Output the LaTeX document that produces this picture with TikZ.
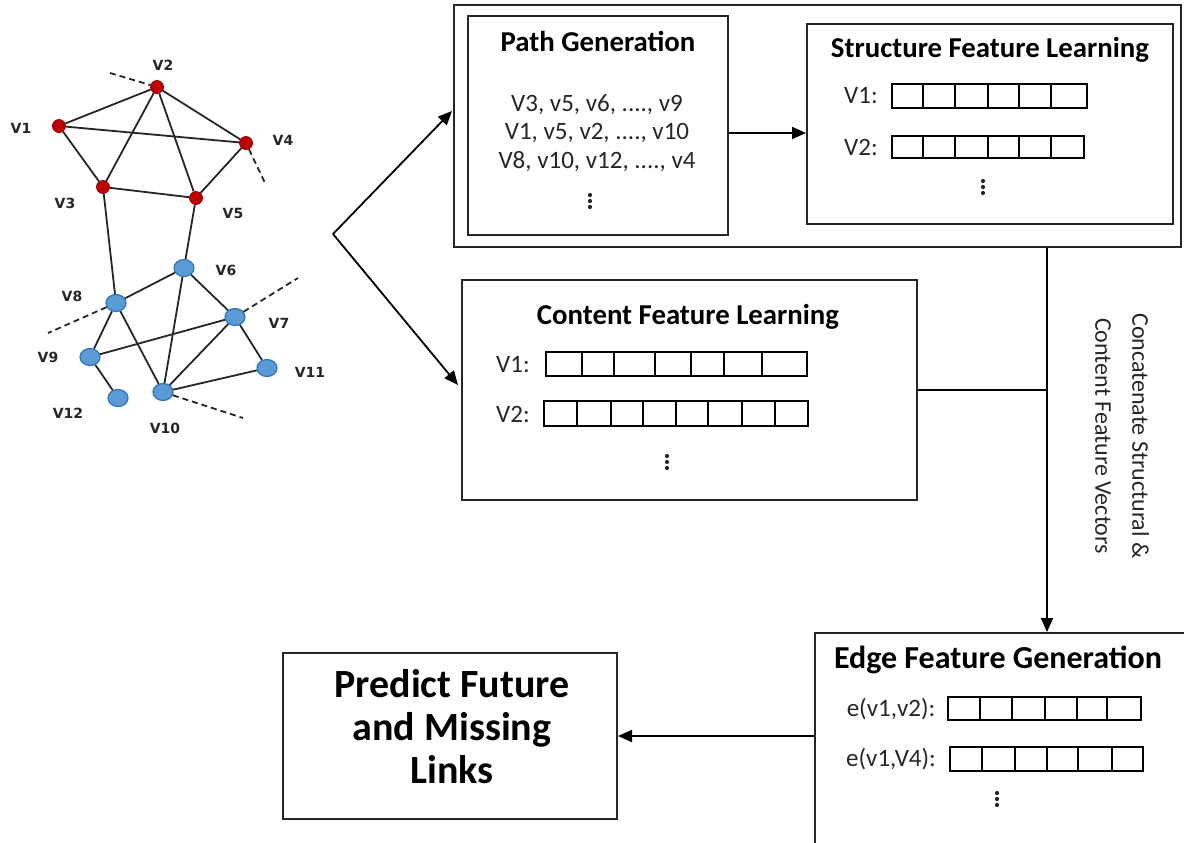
\documentclass[tikz,border=0pt]{standalone}
\usepackage{fontspec}
\setmainfont{Carlito}
\newfontfamily\graphfont{DejaVu Sans}
\usetikzlibrary{arrows.meta,positioning,shapes.geometric}
\definecolor{vred}{HTML}{C00000}
\definecolor{vredline}{HTML}{8B0000}
\definecolor{vblue}{HTML}{5B9BD5}
\definecolor{vblueline}{HTML}{2E75B6}
\definecolor{ink}{HTML}{262626}
\newcommand{\vecrow}[5]{%
  \draw[cell] (#3,#1) rectangle (#4,#2);
  \foreach \cx in {#5} \draw[cell] (\cx,#1) -- (\cx,#2);}
\tikzset{
  box/.style={draw=ink, line width=1pt, inner sep=0pt},
  title/.style={font=\bfseries\fontsize{14.4}{16}\selectfont, text=black, inner sep=1pt},
  body/.style={font=\fontsize{12.5}{14}\selectfont, text=ink, inner sep=1pt},
  ellip/.style={minimum width=3pt, minimum height=9pt, inner sep=0pt,
    path picture={\foreach \dy in {-3pt,0pt,3pt}
      \fill[ink] ([yshift=\dy]path picture bounding box.center) circle (1.05pt);}},
  bigtext/.style={font=\bfseries\fontsize{20}{21.5}\selectfont, align=center, inner sep=0pt},
  cell/.style={draw=black, line width=0.8pt},
  line/.style={-{Triangle[length=7pt,width=6pt]}, draw=black, line width=0.9pt},
  link/.style={draw=ink, line width=0.9pt},
  cut/.style={link, dash pattern=on 3pt off 2pt},
  rnode/.style={circle, draw=vredline, fill=vred, line width=0.4pt, minimum size=6.5pt, inner sep=0pt},
  bnode/.style={ellipse, draw=vblueline, fill=vblue, line width=0.6pt, minimum width=10pt, minimum height=8.5pt, inner sep=0pt},
  vlabel/.style={font=\graphfont\bfseries\fontsize{7}{8}\selectfont, text=ink, inner sep=0pt}
}
\begin{document}
\begin{tikzpicture}[x=0.5pt, y=-0.5pt]
  \useasboundingbox (0,0) rectangle (1184,842);

  % input graph
  \node[rnode] (v1) at (59,126) {};
  \node[rnode] (v2) at (157,87) {};
  \node[rnode] (v3) at (103,187) {};
  \node[rnode] (v4) at (246,143) {};
  \node[rnode] (v5) at (196,198) {};
  \node[bnode] (v6) at (184,268) {};
  \node[bnode] (v7) at (235,317) {};
  \node[bnode] (v8) at (116,303) {};
  \node[bnode] (v9) at (90,357) {};
  \node[bnode] (v10) at (163,392) {};
  \node[bnode] (v11) at (267,368) {};
  \node[bnode] (v12) at (118,398) {};
  \foreach \a/\b in {v2/v1, v2/v3, v2/v5, v2/v4, v1/v4, v1/v3, v3/v5, v4/v5,
                     v3/v8, v5/v6, v8/v6, v8/v9, v8/v10, v6/v10, v6/v7,
                     v7/v9, v7/v10, v7/v11, v11/v10, v9/v12}
    \draw[link] (\a) -- (\b);
  \coordinate (cut2) at (110,73);
  \coordinate (cut4) at (265,183);
  \coordinate (cut7) at (298,278);
  \coordinate (cut8) at (48,333);
  \coordinate (cut10) at (243,418);
  \draw[cut] (cut2) -- (v2);
  \draw[cut] (v4) -- (cut4);
  \draw[cut] (v7) -- (cut7);
  \draw[cut] (v8) -- (cut8);
  \draw[cut] (v10) -- (cut10);
  \node[vlabel] (v1l) at (21,128) {V1};
  \node[vlabel] (v2l) at (163,65) {V2};
  \node[vlabel] (v3l) at (65,203) {V3};
  \node[vlabel] (v4l) at (283,140) {V4};
  \node[vlabel] (v5l) at (233,213) {V5};
  \node[vlabel] (v6l) at (226,270) {V6};
  \node[vlabel] (v7l) at (279,323) {V7};
  \node[vlabel] (v8l) at (72,296) {V8};
  \node[vlabel] (v9l) at (48,357) {V9};
  \node[vlabel] (v10l) at (165,428) {V10};
  \node[vlabel] (v11l) at (310,372) {V11};
  \node[vlabel] (v12l) at (68,413) {V12};

  % boxes
  \node[box, minimum width=363.5pt, minimum height=121pt] (outer) at (817.5,126) {};
  \node[box, minimum width=130pt, minimum height=109.5pt] (pathbox) at (598,125.5) {};
  \node[box, minimum width=183pt, minimum height=100pt] (structbox) at (990,124) {};
  \node[box, minimum width=227.5pt, minimum height=110pt] (contbox) at (689.5,390) {};
  \node[box, minimum width=195pt, minimum height=117pt] (edgebox) at (1010,750) {};
  \node[box, minimum width=167pt, minimum height=83pt] (predbox) at (450,736) {};
  \node[bigtext] (predtxt) at (452,727) {Predict Future\\and Missing\\Links};

  % path generation
  \node[title] (pathtitle) at (598,41) {Path Generation};
  \node[body] (p1) at (597,105) {V3, v5, v6, ...., v9};
  \node[body] (p2) at (597,133) {V1, v5, v2, ...., v10};
  \node[body] (p3) at (597,162) {V8, v10, v12, ...., v4};
  \node[ellip] (pdots) at (590,201) {};

  % structure features
  \node[title] (sttitle) at (990,50) {Structure Feature Learning};
  \node[body] (s1) at (861,96) {V1:};
  \node[body] (s2) at (861,147) {V2:};
  \vecrow{84}{108}{892}{1087}{923,955,988,1019,1051}
  \vecrow{136}{158}{892}{1084}{923,955,988,1019,1051}
  \node[ellip] (sdots) at (983,187) {};

  % content features
  \node[title] (cttitle) at (688,317) {Content Feature Learning};
  \node[body] (c1) at (513,365) {V1:};
  \node[body] (c2) at (513,414) {V2:};
  \vecrow{352}{376}{546}{807}{582,614,655,691,724,762}
  \vecrow{401}{426}{544}{808}{577,611,643,676,708,742,775}
  \node[ellip] (cdots) at (667,462) {};

  % edge features
  \node[title, font=\bfseries\fontsize{16}{18}\selectfont] (edtitle) at (998,660) {Edge Feature Generation};
  \node[body] (e1) at (891,709) {e(v1,v2):};
  \node[body] (e2) at (891,759) {e(v1,V4):};
  \vecrow{697}{720}{948}{1141}{980,1012,1045,1077,1107}
  \vecrow{747}{771}{950}{1143}{982,1015,1047,1078,1112}
  \node[ellip] (edots) at (997,799) {};

  \node[body, rotate=-90, align=center, font=\fontsize{12}{18.5}\selectfont] (concat) at (1122,436)
    {Concatenate Structural \&\\Content Feature Vectors};

  % connectors
  \coordinate (split) at (333,234);
  \coordinate (toPath) at (452,111);
  \coordinate (toCont) at (458,385);
  \coordinate (merge) at (1047,390);
  \draw[line] (split) -- (toPath);
  \draw[line] (split) -- (toCont);
  \draw[line] (pathbox.east |- p2) -- (structbox.west |- p2);
  \draw[link, draw=black] (contbox.east) -- (merge);
  \draw[line] (outer.south -| merge) -- (edgebox.north -| merge);
  \draw[line] (edgebox.west |- predbox.east) -- (predbox.east);
\end{tikzpicture}
\end{document}
